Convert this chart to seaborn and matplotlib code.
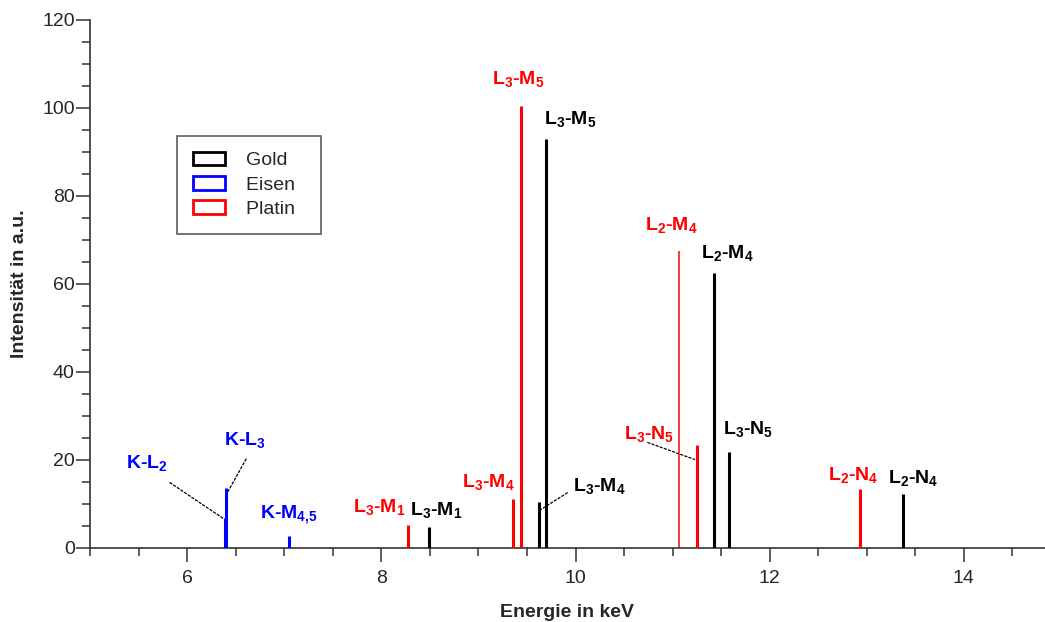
import matplotlib
matplotlib.use("Agg")
import matplotlib.pyplot as plt
from matplotlib.patches import Patch
from matplotlib.ticker import MultipleLocator
import pandas as pd
import seaborn as sns

# Linienenergien (keV) und Intensitaeten (a.u.)
gold_energy = [8.49, 9.62, 9.70, 11.43, 11.58, 13.37]
gold_intensity = [4.8, 10.5, 93.0, 62.5, 21.8, 12.3]
gold_lines = ["L3-M1", "L3-M4", "L3-M5", "L2-M4", "L3-N5", "L2-N4"]

platin_energy = [8.27, 9.36, 9.44, 11.07, 11.25, 12.93]
platin_intensity = [5.2, 11.2, 100.5, 67.5, 23.3, 13.3]
platin_lines = ["L3-M1", "L3-M4", "L3-M5", "L2-M4", "L3-N5", "L2-N4"]

eisen_energy = [6.39, 6.40, 7.05]
eisen_intensity = [6.9, 13.7, 2.7]
eisen_lines = ["K-L2", "K-L3", "K-M4,5"]

elements = ["Gold", "Eisen", "Platin"]
colors = {"Gold": "black", "Eisen": "#0000ff", "Platin": "#ff0000"}

df = pd.concat([
    pd.DataFrame({"element": "Gold", "energy": gold_energy, "intensity": gold_intensity, "line": gold_lines}),
    pd.DataFrame({"element": "Eisen", "energy": eisen_energy, "intensity": eisen_intensity, "line": eisen_lines}),
    pd.DataFrame({"element": "Platin", "energy": platin_energy, "intensity": platin_intensity, "line": platin_lines}),
], ignore_index=True)

# label placement: text centre, leader line (start, end) or None
label_pos = {
    ("Eisen", "K-L2"): (5.59, 19.4, ((5.82, 14.9), (6.38, 6.6))),
    ("Eisen", "K-L3"): (6.60, 24.5, ((6.61, 20.3), (6.42, 12.8))),
    ("Eisen", "K-M4,5"): (7.05, 7.5, None),
    ("Platin", "L3-M1"): (7.98, 9.4, None),
    ("Gold", "L3-M1"): (8.57, 8.7, None),
    ("Platin", "L3-M4"): (9.10, 15.0, None),
    ("Gold", "L3-M4"): (10.24, 14.0, ((9.92, 12.6), (9.64, 8.7))),
    ("Platin", "L3-M5"): (9.41, 106.7, None),
    ("Gold", "L3-M5"): (9.95, 97.4, None),
    ("Platin", "L2-M4"): (10.99, 73.4, None),
    ("Gold", "L2-M4"): (11.56, 67.0, None),
    ("Platin", "L3-N5"): (10.76, 26.0, ((10.74, 24.0), (11.23, 20.1))),
    ("Gold", "L3-N5"): (11.78, 27.0, None),
    ("Platin", "L2-N4"): (12.86, 16.5, None),
    ("Gold", "L2-N4"): (13.48, 15.8, None),
}


def tex(name):
    out = []
    for part in name.split("-"):
        if len(part) == 1:
            out.append(r"$\mathbf{%s}$" % part)
        else:
            sub = part[1:].replace(",", "{,}")
            out.append(r"$\mathbf{%s_{%s}}$" % (part[0], sub))
    return "-".join(out)


sns.set_style("ticks")
plt.rcParams["font.family"] = ["Liberation Sans", "DejaVu Sans"]
plt.rcParams["mathtext.fontset"] = "custom"
plt.rcParams["mathtext.rm"] = "Liberation Sans"
plt.rcParams["mathtext.bf"] = "Liberation Sans:bold"

fig = plt.figure(figsize=(10.45, 6.22), dpi=100)
ax = fig.add_axes([90 / 1045, 74 / 622, 1 - 90 / 1045, (548 - 20) / 622])

for _, row in df.iterrows():
    lw = 1.1 if (row.element == "Platin" and row.line == "L2-M4") else 2.2
    ax.vlines(row.energy, 0, row.intensity, color=colors[row.element], lw=lw, zorder=3)
    tx, ty, lead = label_pos[(row.element, row.line)]
    ax.text(tx, ty, tex(row.line), color=colors[row.element], fontsize=14,
            fontweight="bold", ha="center", va="center")
    if lead is not None:
        (x0, y0), (x1, y1) = lead
        ax.plot([x0, x1], [y0, y1], color="black", lw=0.9, ls=(0, (2.5, 1)), zorder=2)

ax.set_xlim(5, 5 + (1045 - 90) / 97.1)
ax.set_ylim(0, 120)
ax.xaxis.set_major_locator(MultipleLocator(2))
ax.xaxis.set_minor_locator(MultipleLocator(0.5))
ax.yaxis.set_major_locator(MultipleLocator(20))
ax.yaxis.set_minor_locator(MultipleLocator(5))
ax.tick_params(axis="both", which="major", length=10, width=1.1, labelsize=14, color="#333333")
ax.tick_params(axis="both", which="minor", length=5.5, width=1.1, color="#333333")
ax.tick_params(axis="y", which="major", pad=1)
ax.tick_params(axis="x", which="major", pad=6)
sns.despine(ax=ax)
ax.spines["left"].set_linewidth(1.2)
ax.spines["bottom"].set_linewidth(1.2)
ax.spines["left"].set_color("#333333")
ax.spines["bottom"].set_color("#333333")

ax.set_xlabel("Energie in keV", fontsize=14, fontweight="bold", labelpad=12)
ax.set_ylabel("Intensität in a.u.", fontsize=14, fontweight="bold", labelpad=10)

handles = [Patch(facecolor="none", edgecolor=colors[e], lw=2, label=e + "  ") for e in elements]
leg = ax.legend(handles=handles, loc="upper left", bbox_to_anchor=(177 / 1045, 1 - 136 / 622),
                bbox_transform=fig.transFigure, borderaxespad=0, fontsize=14, frameon=True,
                fancybox=False, handlelength=1.65, handleheight=0.7, handletextpad=1.1,
                labelspacing=0.35, borderpad=0.8)
leg.get_frame().set_edgecolor("#333333")
leg.get_frame().set_linewidth(1.2)

fig.savefig("out.png", dpi=100)
